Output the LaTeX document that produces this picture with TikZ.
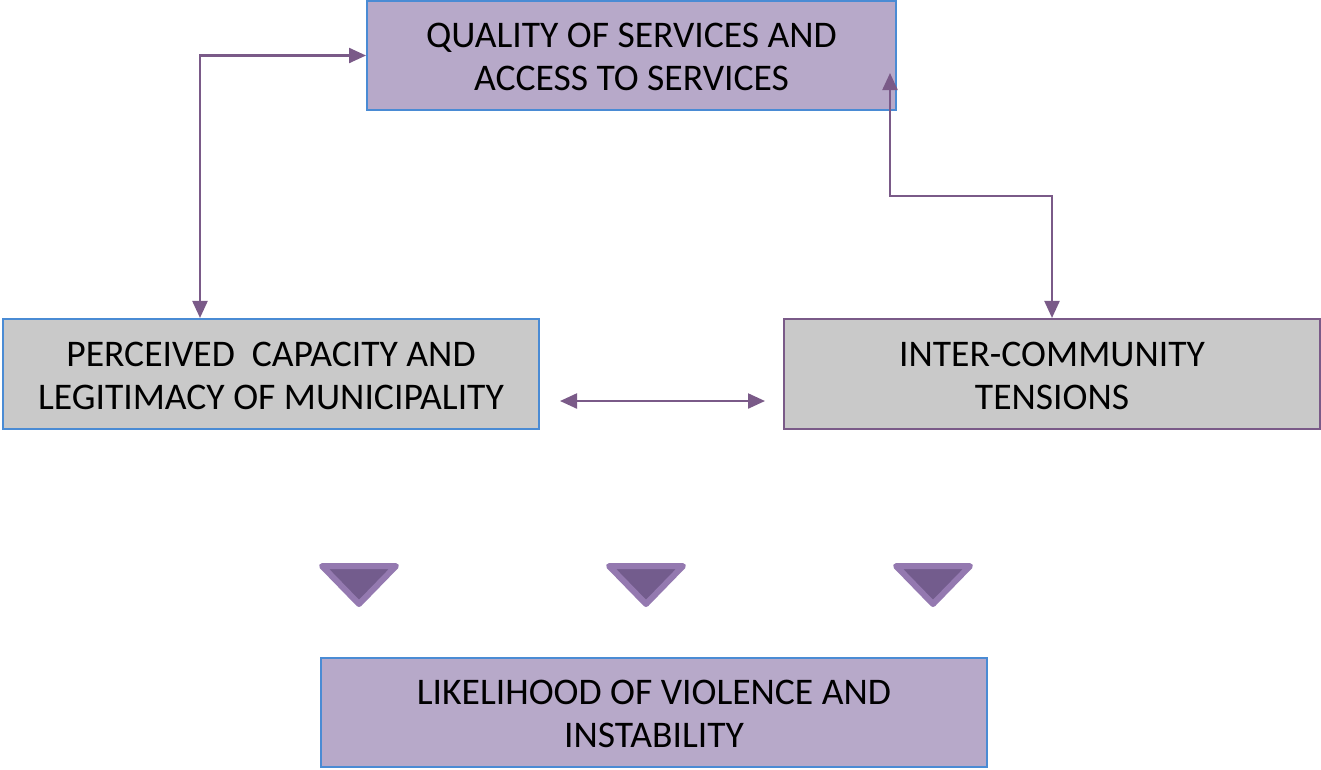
\documentclass[tikz,border=0pt]{standalone}
\usepackage{fontspec}
\setmainfont{Carlito}
\usetikzlibrary{arrows.meta}
\tikzset{>={Triangle[length=3.4mm,width=3mm]}}

\definecolor{boxpurple}{HTML}{B7A9C9}
\definecolor{boxgray}{HTML}{C9C9C9}
\definecolor{edgeblue}{HTML}{4A8BD4}
\definecolor{linepurple}{HTML}{7A5A88}
\definecolor{tridark}{HTML}{735C8D}
\definecolor{trilight}{HTML}{9479B0}

\tikzset{
    factor/.style={draw=edgeblue, line width=1.2pt, align=center, inner sep=0pt,
        font=\fontsize{21.4}{24.5}\selectfont, text height=40pt, text depth=0pt},
    link/.style={linepurple, line width=1.3pt, <->},
}

\begin{document}
\begin{tikzpicture}[x=0.02cm, y=-0.02cm]
    \useasboundingbox (0,0) rectangle (1321,769);

    \node[factor, fill=boxpurple, minimum width=10.58cm, minimum height=2.18cm] at (631.5,55.5) (quality) {QUALITY OF SERVICES AND\\ACCESS TO SERVICES};
    \node[factor, fill=boxgray, minimum width=10.72cm, minimum height=2.2cm] at (271,374) (capacity) {PERCEIVED\ \ CAPACITY AND\\LEGITIMACY OF MUNICIPALITY};
    \node[factor, fill=boxgray, draw=linepurple, minimum width=10.72cm, minimum height=2.2cm] at (1052,374) (tensions) {INTER-COMMUNITY\\TENSIONS};
    \node[factor, fill=boxpurple, minimum width=13.32cm, minimum height=2.18cm] at (654,712.5) (violence) {LIKELIHOOD OF VIOLENCE AND\\INSTABILITY};

    \coordinate (lcorner) at (200,55.5);
    \coordinate (qtip) at (890,73);
    \coordinate (rcorner) at (890,196);
    \coordinate (hleft) at (560,401);
    \coordinate (hright) at (765,401);

    \draw[link] (quality.west) -- (lcorner) -- (lcorner |- capacity.north);
    \draw[link] (qtip) -- (rcorner) -| (tensions.north);
    \draw[link] (hleft) -- (hright);

    \foreach \x in {359,646,933}
        \draw[fill=tridark, draw=trilight, line width=0.12cm, line join=round]
            (\x-37,566) -- (\x+37,566) -- (\x,604) -- cycle;

\end{tikzpicture}
\end{document}
